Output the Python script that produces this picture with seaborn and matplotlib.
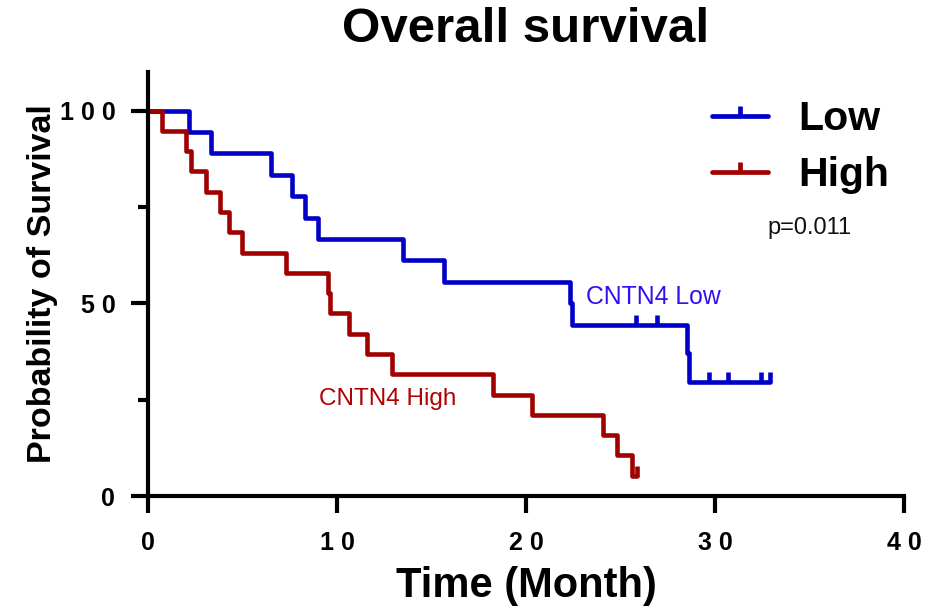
import numpy as np
import pandas as pd
import matplotlib
matplotlib.use("Agg")
import matplotlib.pyplot as plt
from matplotlib.lines import Line2D
from matplotlib.ticker import FuncFormatter, MultipleLocator
import seaborn as sns

# ---- data ----
low_times = [2.17, 3.32, 6.49, 7.64, 8.31, 8.98, 13.47, 15.68, 22.33, 22.42,
             25.82, 26.91, 28.53, 28.62, 29.70, 30.70, 32.46, 32.92]
low_events = [1, 1, 1, 1, 1, 1, 1, 1, 1, 1,
              0, 0, 1, 1, 0, 0, 0, 0]
high_times = [0.72, 1.99, 2.28, 3.05, 3.81, 4.29, 4.96, 7.28, 9.54, 9.64,
              10.63, 11.60, 12.89, 18.24, 20.30, 24.06, 24.80, 25.60, 25.85]
high_events = [1, 1, 1, 1, 1, 1, 1, 1, 1, 1,
               1, 1, 1, 1, 1, 1, 1, 1, 0]
group_names = ["Low", "High"]
group_colors = ["#0000C8", "#A00000"]
p_text = "p=0.011"
x_ticks = [0, 10, 20, 30, 40]
y_ticks = [0, 50, 100]


def kaplan_meier(times, events):
    order = np.argsort(times, kind="stable")
    t = np.asarray(times, float)[order]
    e = np.asarray(events, int)[order]
    surv = 100.0
    xs, ys = [0.0], [100.0]
    cx, cy = [], []
    at_risk = len(t)
    for ti, ei in zip(t, e):
        if ei == 1:
            surv *= (at_risk - 1) / at_risk
            xs.append(ti)
            ys.append(surv)
        else:
            cx.append(ti)
            cy.append(surv)
        at_risk -= 1
    xs.append(t[-1])
    ys.append(surv)
    return pd.DataFrame({"time": xs, "surv": ys}), cx, cy


sns.set_theme(style="white")
plt.rcParams["font.family"] = ["Liberation Sans", "DejaVu Sans"]
plt.rcParams.update({"text.color": "black", "axes.labelcolor": "black",
                     "xtick.color": "black", "ytick.color": "black"})

fig = plt.figure(figsize=(9.35, 6.08), dpi=100)
ax = fig.add_axes([0.1583, 0.1842, 0.8085, 0.6974])

for name, times, events, col in zip(group_names, [low_times, high_times],
                                    [low_events, high_events], group_colors):
    steps, cx, cy = kaplan_meier(times, events)
    sns.lineplot(data=steps, x="time", y="surv", ax=ax, color=col,
                 estimator=None, sort=False, drawstyle="steps-post",
                 linewidth=3.3, legend=False)
    ax.plot(cx, cy, linestyle="none", marker=2, markersize=7,
            markeredgewidth=3.3, color=col, clip_on=False)

ax.set_xlim(0, 40)
ax.set_ylim(0, 110)
ax.set_xticks(x_ticks)
ax.set_yticks(y_ticks)
ax.yaxis.set_minor_locator(MultipleLocator(25))
spaced = FuncFormatter(lambda v, pos: " ".join(str(int(round(v)))))
ax.xaxis.set_major_formatter(spaced)
ax.yaxis.set_major_formatter(spaced)
ax.tick_params(axis="both", which="major", direction="out", length=12.5,
               width=3, labelsize=18, color="black", labelcolor="black",
               bottom=True, left=True)
ax.tick_params(axis="x", pad=13)
ax.tick_params(axis="y", pad=11)
ax.tick_params(axis="y", which="minor", direction="out", length=7, width=3,
               color="black", left=True)
for lab in ax.get_xticklabels() + ax.get_yticklabels():
    lab.set_fontweight("bold")
sns.despine(ax=ax)
for side in ["left", "bottom"]:
    ax.spines[side].set_linewidth(3)
    ax.spines[side].set_color("black")

ax.set_xlabel("Time (Month)", fontsize=30, fontweight="bold", va="center")
ax.xaxis.set_label_coords(0.5, -0.212)
ax.set_ylabel("Probability of Survival", fontsize=24.5, fontweight="bold",
              va="center")
ax.yaxis.set_label_coords(-0.14, 0.5)
ax.set_title("Overall survival", fontsize=35.5, fontweight="bold",
             y=1.1, va="center", pad=0)

handles = [Line2D([0], [0], color=c, lw=3.4, marker=2, markersize=7,
                  markeredgewidth=3.4) for c in group_colors]
leg = ax.legend(handles, group_names, loc="upper left",
                bbox_to_anchor=(0.746, 0.934), frameon=False, borderpad=0,
                borderaxespad=0, handlelength=1.37, handletextpad=0.73,
                labelspacing=0.44, prop={"size": 29.5, "weight": "bold"})

ax.text(0.819, 0.632, p_text, transform=ax.transAxes, fontsize=17,
        ha="left", va="center", color="#111111")
ax.text(23.2, 51.7, "CNTN4 Low", fontsize=17.8, color="#3311EE",
        ha="left", va="center")
ax.text(9.05, 25.2, "CNTN4 High", fontsize=17.5, color="#B00000",
        ha="left", va="center")

fig.savefig("out.png", dpi=100)
